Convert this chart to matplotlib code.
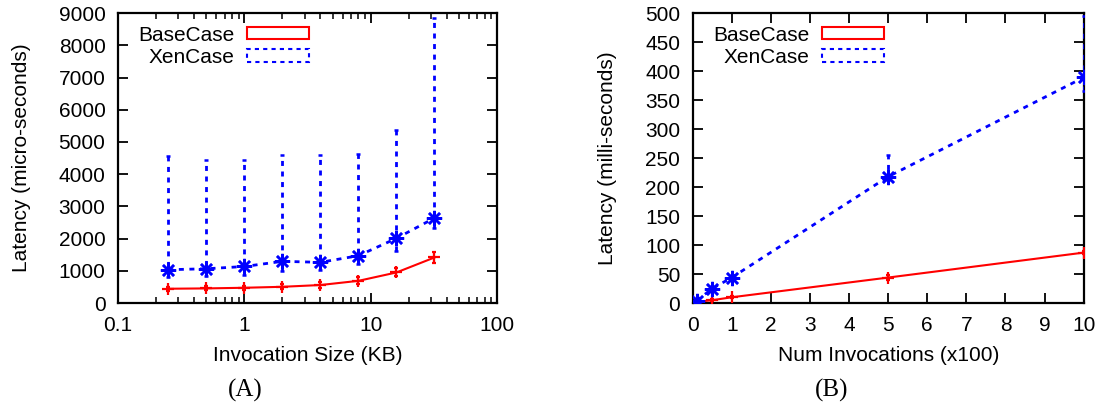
import matplotlib
matplotlib.use('Agg')

import matplotlib.pyplot as plt
import matplotlib.patches as patches
from matplotlib.ticker import LogLocator, NullFormatter

plt.rcParams['font.family'] = ['Liberation Sans', 'DejaVu Sans']

# (A) latency vs invocation size
size_kb = [0.25, 0.5, 1, 2, 4, 8, 16, 32]
base_a = [445, 455, 475, 505, 560, 690, 950, 1415]
base_a_lo = [390, 400, 410, 430, 480, 600, 830, 1240]
base_a_hi = [500, 520, 540, 580, 640, 800, 1080, 1590]
xen_a = [1035, 1065, 1135, 1295, 1265, 1470, 2010, 2640]
xen_a_lo = [820, 850, 880, 1000, 1020, 1200, 1630, 2330]
xen_a_hi = [4560, 4450, 4450, 4590, 4590, 4630, 5360, 8850]

# (B) latency vs number of invocations
num_inv = [0.1, 0.5, 1, 5, 10]
base_b = [2, 5, 10, 44, 87]
base_b_lo = [1, 3, 8, 40, 84]
base_b_hi = [3, 7, 12, 48, 90]
xen_b = [4, 25, 44, 218, 389]
xen_b_lo = [1, 20, 40, 212, 365]
xen_b_hi = [8, 30, 49, 255, 495]

RED = '#ff0000'
BLUE = '#0000ff'
FS = 15

fig = plt.figure(figsize=(11.03, 4.09), dpi=100)
ax1 = fig.add_axes([0.107, 0.259, 0.3436, 0.709])
ax2 = fig.add_axes([0.628, 0.259, 0.3545, 0.709])


def draw(ax, x, base, blo, bhi, xen, xlo, xhi):
    ax.errorbar(x, base, yerr=[[b - l for b, l in zip(base, blo)],
                               [h - b for b, h in zip(base, bhi)]],
                color=RED, lw=1.5, marker='+', ms=9, mew=1.6,
                capsize=1.5, elinewidth=1.5, zorder=3)
    e2 = ax.errorbar(x, xen, yerr=[[v - l for v, l in zip(xen, xlo)],
                                   [h - v for v, h in zip(xen, xhi)]],
                     color=BLUE, lw=2, ls=(0, (1.8, 2)), marker=(8, 2, 0),
                     ms=11, mew=1.8, capsize=1.5, elinewidth=2, zorder=3)
    for c in e2[2]:
        c.set_linestyle((0, (1.8, 2)))
    ax.tick_params(axis='both', which='major', direction='in', length=7,
                   width=1.3, top=True, right=True, labelsize=FS, pad=9)
    ax.tick_params(axis='both', which='minor', direction='in', length=4,
                   width=1.1, top=True, right=True)
    for s in ax.spines.values():
        s.set_linewidth(1.6)
    handles = [
        patches.Rectangle((0, 0), 1, 1, facecolor='none', edgecolor=RED, lw=1.5,
                          label='BaseCase'),
        patches.Rectangle((0, 0), 1, 1, facecolor='none', edgecolor=BLUE, lw=1.5,
                          ls=(0, (2, 2)), label='XenCase'),
    ]
    ax.legend(handles=handles, loc='upper left', frameon=False, markerfirst=False,
              fontsize=FS, handlelength=3.0, handleheight=0.55, labelspacing=0.15,
              handletextpad=0.6, borderaxespad=0.2, bbox_to_anchor=(0.02, 1.0))


draw(ax1, size_kb, base_a, base_a_lo, base_a_hi, xen_a, xen_a_lo, xen_a_hi)
ax1.set_xscale('log')
ax1.set_xlim(0.1, 100)
ax1.set_ylim(0, 9000)
ax1.set_xticks([0.1, 1, 10, 100])
ax1.set_xticklabels(['0.1', '1', '10', '100'])
ax1.xaxis.set_minor_locator(LogLocator(base=10, subs=range(2, 10)))
ax1.xaxis.set_minor_formatter(NullFormatter())
ax1.set_yticks(range(0, 9001, 1000))
ax1.set_xlabel('Invocation Size (KB)', fontsize=FS, labelpad=8)
ax1.set_ylabel('Latency (micro-seconds)', fontsize=FS, labelpad=20)

draw(ax2, num_inv, base_b, base_b_lo, base_b_hi, xen_b, xen_b_lo, xen_b_hi)
ax2.set_xlim(0, 10)
ax2.set_ylim(0, 500)
ax2.set_xticks(range(0, 11))
ax2.set_yticks(range(0, 501, 50))
ax2.set_xlabel('Num Invocations (x100)', fontsize=FS, labelpad=8)
ax2.set_ylabel('Latency (milli-seconds)', fontsize=FS, labelpad=20)

fig.text(0.222, 0.03, '(A)', fontsize=18, family='Liberation Serif', ha='center')
fig.text(0.754, 0.03, '(B)', fontsize=18, family='Liberation Serif', ha='center')

fig.savefig('out.png', dpi=100)
